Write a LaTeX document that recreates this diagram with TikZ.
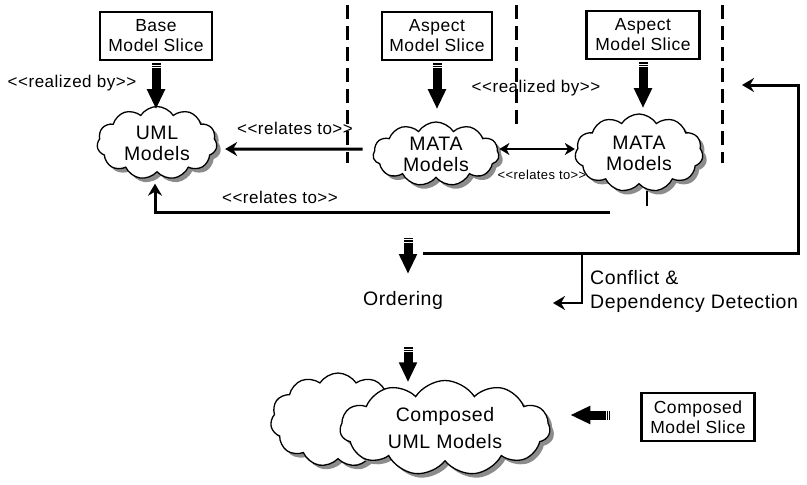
\documentclass[tikz,border=0pt]{standalone}
\usepackage{fontspec}
\setmainfont{Liberation Sans}[LetterSpace=3, Ligatures=TeXOff]
\usetikzlibrary{shapes.symbols,shadows,arrows.meta}

\begin{document}
\begin{tikzpicture}[x=1pt,y=-1pt,
  slice/.style={draw, line width=2.4pt, fill=white, inner sep=0pt,
    minimum width=#1, minimum height=48pt, align=center,
    font=\fontsize{17.5}{20}\selectfont},
  mdl/.style={cloud, cloud puffs=11, cloud puff arc=115, cloud ignores aspect,
    draw, line width=1.3pt, fill=white, inner sep=0pt, align=center,
    font=\fontsize{19.5}{21}\selectfont,
    drop shadow={shadow xshift=4pt, shadow yshift=-4pt, fill=black!45, opacity=1}},
  fat/.style={line width=9pt, -{Triangle[width=17pt,length=20pt]},
    shorten <=4.5pt,
    preaction={draw, -, line width=9pt, shorten <=0pt,
      dash pattern=on 1.3pt off 1pt on 1.2pt off 1000pt}},
  rel/.style={line width=3pt, -{Stealth[length=12pt,width=14pt,inset=4pt]}},
  relboth/.style={line width=1.6pt, {Stealth[length=10pt,width=12pt,inset=3pt]}-{Stealth[length=10pt,width=12pt,inset=3pt]}},
  sep/.style={line width=3pt, dash pattern=on 14pt off 7pt},
  lbl/.style={inner sep=0pt, font=\fontsize{17}{19}\selectfont},
  smalllbl/.style={inner sep=0pt, font=\fontsize{13}{14}\selectfont},
  txt/.style={inner sep=0pt, align=left, font=\fontsize{19.5}{24}\selectfont}]

\useasboundingbox (0,0) rectangle (807,485);

% swim-lane separators
\draw[sep] (347,5) -- (347,163);
\draw[sep] (516,5) -- (516,127);
\draw[sep] (722,5) -- (722,163);

% model slices
\node[slice=112pt] (base) at (156,36) {Base\\Model Slice};
\node[slice=110pt] (asp1) at (437,36) {Aspect\\Model Slice};
\node[slice=113pt] (asp2) at (643,35) {Aspect\\Model Slice};
\node[slice=113pt] (cslice) at (698,417) {Composed\\Model Slice};

% model clouds
\node[mdl, minimum width=120pt, minimum height=73pt] (uml) at (157,143) {UML\\Models};
\node[mdl, minimum width=126pt, minimum height=64pt] (mata1) at (436,154) {MATA\\Models};
\node[mdl, minimum width=128pt, minimum height=78pt] (mata2) at (639,153) {MATA\\Models};
\node[mdl, minimum width=135pt, minimum height=94pt] (back) at (338,420) {};
\node[mdl, minimum width=210pt, minimum height=95pt,
  font=\fontsize{19.5}{27}\selectfont] (comp) at (445,428) {Composed\\UML Models};

% realization
\draw[fat] ([yshift=-2pt]base.south) -- ++(0,46);
\draw[fat] ([yshift=-2pt]asp1.south) -- ++(0,46);
\draw[fat] ([yshift=-2pt]asp2.south) -- ++(0,46);
\node[lbl] (rb1) at (72,83) {<<realized by>>};
\node[lbl] (rb2) at (536,88) {<<realized by>>};

% relations between models
\draw[rel] ([xshift=-10pt,yshift=5pt]mata1.west) -- ([xshift=8pt,yshift=-6pt]uml.east);
\node[lbl] (rt1) at (295,128) {<<relates to>>};
\draw[relboth] ([yshift=5pt]mata1.east) -- ([yshift=4pt]mata2.west);
\node[smalllbl] (rt2) at (542,175) {<<relates to>>};
\coordinate (rbs) at (610,212);
\draw[rel] (rbs) -| ([xshift=-2pt,yshift=-11pt]uml.south);
\node[lbl] (rt3) at (280,197) {<<relates to>>};
\draw[line width=2pt] ([xshift=8pt,yshift=-6pt]mata2.south) -- ++(0,15);

% ordering and conflict detection
\node[inner sep=0pt, font=\fontsize{19.5}{21}\selectfont] (ord) at (403,300) {Ordering};
\coordinate (oin) at (408,238);
\draw[fat] (oin) -- ++(0,36);
\coordinate (fbs) at (423,253);
\coordinate (fbturn) at (798,85);
\coordinate (fbend) at (742,85);
\draw[rel] (fbs) -| (fbturn) -- (fbend);
\coordinate (brs) at (582,253);
\coordinate (bre) at (553,303);
\draw[rel, line width=2.6pt] (brs) |- (bre);
\node[txt, anchor=west] (cdd) at (590,291) {Conflict \&\\Dependency Detection};

% composition
\draw[fat] ([xshift=5pt,yshift=-38pt]ord.south) -- ++(0,35);
\draw[fat] ([xshift=-30pt,yshift=2pt]cslice.west) -- ++(-40,0);
\end{tikzpicture}
\end{document}
